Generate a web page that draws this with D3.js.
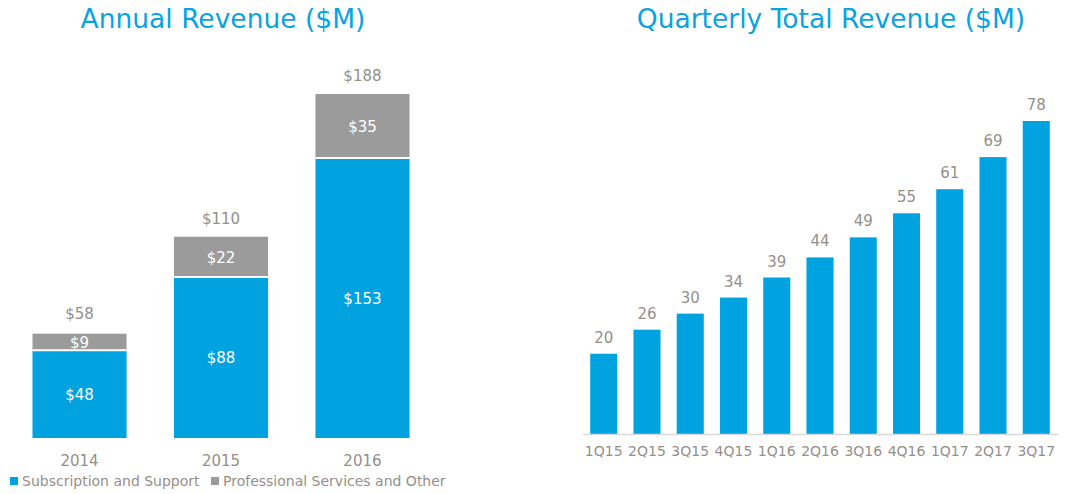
<!DOCTYPE html>
<html>
<head>
    <meta charset="utf-8">
    <title>Revenue</title>
    <style type="text/css">
        body { margin: 0; background: #fff; }
        svg text { font-family: "DejaVu Sans", Verdana, sans-serif; }
    </style>
</head>
<body>
<svg id="chart" width="1068" height="494"></svg>

<script src="https://cdn.jsdelivr.net/npm/d3@7"></script>
<script type="text/javascript">
    // annual data
    var years = ["2014", "2015", "2016"];
    var subscription = [48, 88, 153];
    var professional = [9, 22, 35];
    var annualTotal = [58, 110, 188];

    // quarterly data
    var quarters = ["1Q15", "2Q15", "3Q15", "4Q15", "1Q16", "2Q16", "3Q16", "4Q16", "1Q17", "2Q17", "3Q17"];
    var quarterly = [20, 26, 30, 34, 39, 44, 49, 55, 61, 69, 78];

    var blue = "#00a2df", grey = "#9b9b9c", labelGrey = "#958f8a";
    var svg = d3.select("#chart");

    // ---- left chart ----
    var base1 = 438;
    var x1 = d3.scaleBand().domain(years).range([10, 432]).paddingInner(0.335).paddingOuter(0.159);
    var y1 = d3.scaleLinear().domain([0, 188]).range([base1, 94]);

    svg.append("text")
        .attr("x", 223).attr("y", 28)
        .attr("text-anchor", "middle")
        .style("font-size", "26.5px").style("fill", "#0aa3e2")
        .text("Annual Revenue ($M)");

    var rows = years.map(function (d, i) {
        return {year: d, sub: subscription[i], prof: professional[i], total: annualTotal[i]};
    });

    var g1 = svg.append("g");
    //订阅部分
    g1.selectAll("rect.sub").data(rows).enter().append("rect")
        .attr("class", "sub")
        .attr("x", function (d) { return x1(d.year); })
        .attr("width", x1.bandwidth())
        .attr("y", function (d) { return y1(d.sub); })
        .attr("height", function (d) { return base1 - y1(d.sub); })
        .attr("fill", blue);

    //专业服务部分
    g1.selectAll("rect.prof").data(rows).enter().append("rect")
        .attr("class", "prof")
        .attr("x", function (d) { return x1(d.year); })
        .attr("width", x1.bandwidth())
        .attr("y", function (d) { return y1(d.sub + d.prof); })
        .attr("height", function (d) { return y1(d.sub) - y1(d.sub + d.prof); })
        .attr("fill", grey);

    //白色分隔线
    g1.selectAll("line.sep").data(rows).enter().append("line")
        .attr("x1", function (d) { return x1(d.year); })
        .attr("x2", function (d) { return x1(d.year) + x1.bandwidth(); })
        .attr("y1", function (d) { return y1(d.sub); })
        .attr("y2", function (d) { return y1(d.sub); })
        .attr("stroke", "#fff").attr("stroke-width", 2);

    g1.selectAll("text.sublab").data(rows).enter().append("text")
        .attr("x", function (d) { return x1(d.year) + x1.bandwidth() / 2; })
        .attr("y", function (d) { return (y1(d.sub) + base1) / 2 + 6; })
        .attr("text-anchor", "middle")
        .style("font-size", "15px").style("fill", "#fff")
        .text(function (d) { return "$" + d.sub; });

    g1.selectAll("text.proflab").data(rows).enter().append("text")
        .attr("x", function (d) { return x1(d.year) + x1.bandwidth() / 2; })
        .attr("y", function (d) { return (y1(d.sub) + y1(d.sub + d.prof)) / 2 + 6; })
        .attr("text-anchor", "middle")
        .style("font-size", "15px").style("fill", "#fff")
        .text(function (d) { return "$" + d.prof; });

    g1.selectAll("text.total").data(rows).enter().append("text")
        .attr("x", function (d) { return x1(d.year) + x1.bandwidth() / 2; })
        .attr("y", function (d) { return y1(d.total) - 13; })
        .attr("text-anchor", "middle")
        .style("font-size", "15px").style("fill", labelGrey)
        .text(function (d) { return "$" + d.total; });

    var ax1 = g1.append("g").attr("transform", "translate(0," + base1 + ")")
        .call(d3.axisBottom(x1).tickSize(0).tickPadding(17));
    ax1.select(".domain").remove();
    ax1.selectAll("text").style("font-size", "15px").style("fill", labelGrey)
        .style("font-family", "DejaVu Sans, Verdana, sans-serif");

    //图例
    var legend = [{name: "Subscription and Support", color: blue, x: 10},
        {name: "Professional Services and Other", color: grey, x: 211}];
    var lg = svg.selectAll("g.legend").data(legend).enter().append("g")
        .attr("transform", function (d) { return "translate(" + d.x + ",476)"; });
    lg.append("rect").attr("width", 8).attr("height", 8).attr("y", 1).attr("fill", function (d) { return d.color; });
    lg.append("text").attr("x", 12).attr("y", 10)
        .style("font-size", "14px").style("fill", labelGrey)
        .text(function (d) { return d.name; });

    // ---- right chart ----
    var base2 = 434;
    var x2 = d3.scaleBand().domain(quarters).range([582, 1058]).paddingInner(0.375).paddingOuter(0.19);
    var y2 = d3.scaleLinear().domain([0, 78]).range([base2, 121]);

    svg.append("text")
        .attr("x", 831).attr("y", 28)
        .attr("text-anchor", "middle")
        .style("font-size", "26.5px").style("fill", "#0aa3e2")
        .text("Quarterly Total Revenue ($M)");

    var g2 = svg.append("g");
    g2.selectAll("rect").data(quarterly).enter().append("rect")
        .attr("x", function (d, i) { return x2(quarters[i]); })
        .attr("width", x2.bandwidth())
        .attr("y", function (d) { return y2(d); })
        .attr("height", function (d) { return base2 - y2(d); })
        .attr("fill", blue);

    g2.selectAll("text.val").data(quarterly).enter().append("text")
        .attr("x", function (d, i) { return x2(quarters[i]) + x2.bandwidth() / 2; })
        .attr("y", function (d) { return y2(d) - 11; })
        .attr("text-anchor", "middle")
        .style("font-size", "15px").style("fill", labelGrey)
        .text(function (d) { return d; });

    var ax2 = g2.append("g").attr("transform", "translate(0," + base2 + ")")
        .call(d3.axisBottom(x2).tickSize(0).tickPadding(12).tickSizeOuter(0));
    ax2.select(".domain").attr("stroke", "#d9d9d9").attr("stroke-width", 1.5);
    ax2.selectAll("text").style("font-size", "14px").style("fill", labelGrey)
        .style("font-family", "DejaVu Sans, Verdana, sans-serif");
</script>
</body>
</html>
